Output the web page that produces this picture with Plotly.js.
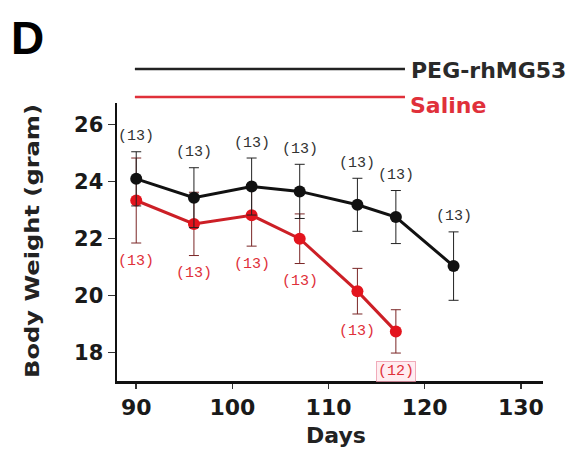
<!DOCTYPE html>
<html>
<head>
<meta charset="utf-8">
<script src="https://cdn.plot.ly/plotly-3.0.1.min.js"></script>
<style>html,body{margin:0;padding:0;background:#fff;}#chart{width:577px;height:450px;}</style>
</head>
<body>
<div id="chart"></div>
<script>
// ---- data ----
const seriesNames = ["PEG-rhMG53", "Saline"];
const pegDays = [90, 96, 102, 107, 113, 117, 123];
const pegMean = [24.09, 23.43, 23.82, 23.65, 23.18, 22.75, 21.03];
const pegErr  = [0.95, 1.05, 1.00, 0.95, 0.93, 0.93, 1.20];
const pegN    = [13, 13, 13, 13, 13, 13, 13];
const salDays = [90, 96, 102, 107, 113, 117];
const salMean = [23.33, 22.51, 22.81, 21.99, 20.15, 18.74];
const salErr  = [1.49, 1.11, 1.08, 0.87, 0.80, 0.76];
const salN    = [13, 13, 13, 13, 13, 12];
const xTicks  = [90, 100, 110, 120, 130];
const yTicks  = [18, 20, 22, 24, 26];
const panelLetter = "D";
const xTitle = "Days";
const yTitle = "Body Weight (gram)";

const black = "#111111";
const red = "#e3141d";
const redLine = "#cc1f26";
const font = "DejaVu Sans, Liberation Sans, Arial, sans-serif";
const monoFont = "Liberation Mono, DejaVu Sans Mono, monospace";

const traces = [
  {
    x: salDays, y: salMean, type: "scatter", mode: "lines+markers", name: seriesNames[1],
    line: {color: redLine, width: 3},
    marker: {color: red, size: 12},
    error_y: {type: "data", array: salErr, visible: true, color: "#7a2626", thickness: 1, width: 5},
    showlegend: false
  },
  {
    x: pegDays, y: pegMean, type: "scatter", mode: "lines+markers", name: seriesNames[0],
    line: {color: black, width: 3},
    marker: {color: black, size: 12},
    error_y: {type: "data", array: pegErr, visible: true, color: "#222", thickness: 1, width: 5},
    showlegend: false
  }
];

const annotations = [];
pegDays.forEach((d, i) => {
  annotations.push({x: d, y: pegMean[i] + pegErr[i], xref: "x", yref: "y",
    text: "(" + pegN[i] + ")", showarrow: false, yanchor: "middle", yshift: 15,
    font: {family: monoFont, size: 15, color: "#333"}});
});
salDays.forEach((d, i) => {
  const a = {x: d, y: salMean[i] - salErr[i], xref: "x", yref: "y",
    text: "(" + salN[i] + ")", showarrow: false, yanchor: "middle", yshift: -18,
    font: {family: monoFont, size: 15, color: "#e0303a"}};
  if (salN[i] !== 13) { a.bordercolor = "rgba(235,140,160,0.7)"; a.borderwidth = 1; a.bgcolor = "rgba(255,225,232,0.6)"; }
  annotations.push(a);
});
// legend text
annotations.push({x: 0.686, y: 1.118, xref: "paper", yref: "paper", xanchor: "left", yanchor: "middle",
  text: seriesNames[0], showarrow: false, font: {family: font, size: 22, color: "#2a2a2a", weight: "bold"}});
annotations.push({x: 0.683, y: 0.990, xref: "paper", yref: "paper", xanchor: "left", yanchor: "middle",
  text: seriesNames[1], showarrow: false, font: {family: font, size: 22, color: "#e0303a", weight: "bold"}});
// panel letter
annotations.push({x: -0.211, y: 1.234, xref: "paper", yref: "paper", xanchor: "center", yanchor: "middle",
  text: panelLetter, showarrow: false, font: {family: "Liberation Sans, Arial, sans-serif", size: 46, color: "#000", weight: "bold"}});
// axis titles
annotations.push({x: -0.200, y: 0.505, xref: "paper", yref: "paper", xanchor: "center", yanchor: "middle",
  textangle: -90, text: yTitle, showarrow: false, font: {family: font, size: 20, color: "#222", weight: "bold"}});
annotations.push({x: 0.514, y: -0.196, xref: "paper", yref: "paper", xanchor: "center", yanchor: "middle",
  text: xTitle, showarrow: false, font: {family: font, size: 22, color: "#222", weight: "bold"}});

const shapes = [
  {type: "line", xref: "paper", yref: "paper", x0: 0.042, x1: 0.676, y0: 1.122, y1: 1.122, line: {color: "#222", width: 2.5}},
  {type: "line", xref: "paper", yref: "paper", x0: 0.042, x1: 0.676, y0: 1.0216, y1: 1.0216, line: {color: "#e0303a", width: 2.5}}
];

const layout = {
  width: 577, height: 450,
  margin: {l: 117, r: 34, t: 103, b: 69},
  paper_bgcolor: "#fff", plot_bgcolor: "#fff",
  showlegend: false,
  xaxis: {
    range: [88.0, 132.3], tickvals: xTicks, ticktext: xTicks.map(String),
    showline: true, linecolor: "#111", linewidth: 2.5, ticks: "outside", ticklen: 5, tickwidth: 1.5, tickcolor: "#333",
    showgrid: false, zeroline: false,
    tickfont: {family: font, size: 22, color: "#1a1a1a", weight: "bold"}
  },
  yaxis: {
    range: [17.0, 26.75], tickvals: yTicks, ticktext: yTicks.map(String),
    showline: true, linecolor: "#111", linewidth: 2.5, ticks: "outside", ticklen: 7, tickwidth: 1.5, tickcolor: "#333",
    showgrid: false, zeroline: false,
    tickfont: {family: font, size: 21, color: "#1a1a1a", weight: "bold"}
  },
  annotations: annotations,
  shapes: shapes
};

Plotly.newPlot("chart", traces, layout, {displayModeBar: false, staticPlot: true}).then(function (gd) {
  // stretch the rotated y-axis title to the length it has in the reference
  gd.querySelectorAll("g.annotation text").forEach(function (t) {
    if (t.textContent === yTitle) {
      t.setAttribute("textLength", "274");
      t.setAttribute("lengthAdjust", "spacingAndGlyphs");
    }
  });
});
</script>
</body>
</html>
